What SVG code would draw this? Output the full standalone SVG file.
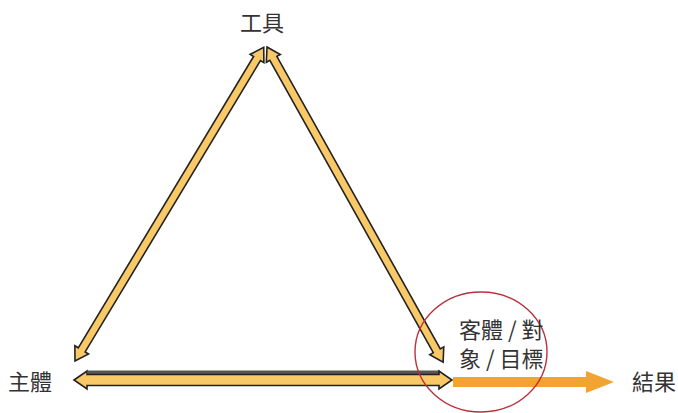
<svg xmlns="http://www.w3.org/2000/svg" width="678" height="413" viewBox="0 0 678 413">
<style>
.bg{fill:#ffffff}
.arr{fill:#F8C966;stroke:#222222;stroke-width:1.6;stroke-linejoin:miter}
.lbl{font-family:"Noto Sans CJK TC","Noto Sans CJK SC",sans-serif;font-size:22px;fill:#333333}
.circ{fill:none;stroke:#B8323C;stroke-width:1.4}
.out{fill:#F2A433}
</style>
<rect class="bg" x="0" y="0" width="678" height="413"/>
<g id="connectors">
<line x1="88" y1="372.5" x2="440" y2="372.5" stroke="#555555" stroke-width="4"/>
<polygon class="arr" transform="translate(75,361) rotate(-58.96)" points="0,0 13,-8 13,-4 353,-4 353,-8 366,0 353,8 353,4 13,4 13,8"/>
<polygon class="arr" transform="translate(267,47) rotate(60.8)" points="0,0 13,-8 13,-4 348,-4 348,-8 361,0 348,8 348,4 13,4 13,8"/>
<polygon class="arr" transform="translate(74,380)" points="0,0 13,-9 13,-5.5 365,-5.5 365,-9 378,0 365,9 365,5.5 13,5.5 13,9"/>
<polygon class="out" points="453,377 586,377 586,371 614,382 586,393 586,387 453,387"/>
</g>
<g id="tool">
<text class="lbl" x="262" y="31" text-anchor="middle">工具</text>
</g>
<g id="subject">
<text class="lbl" x="8" y="390">主體</text>
</g>
<g id="object">
<ellipse class="circ" cx="481" cy="352" rx="66" ry="60"/>
<text class="lbl" x="459" y="338">客體 / 對</text>
<text class="lbl" x="459" y="367">象 / 目標</text>
</g>
<g id="outcome">
<text class="lbl" x="632" y="390">結果</text>
</g>
</svg>
